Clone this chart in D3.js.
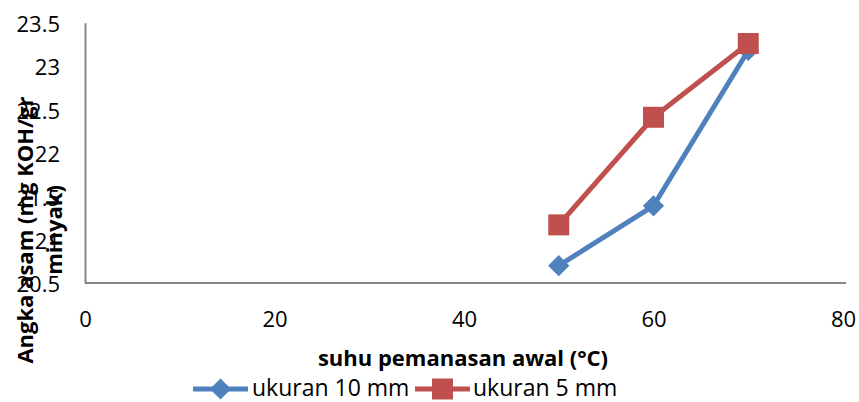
<!DOCTYPE html>
<html>
<head>
<meta charset="utf-8">
<script src="https://cdn.jsdelivr.net/npm/d3@7"></script>
<style>
  html, body { margin: 0; padding: 0; background: #fff; }
  svg { display: block; }
  text { font-family: "Open Sans", Lato, sans-serif; fill: #000; }
</style>
</head>
<body>
<svg id="chart" width="859" height="402"></svg>
<script>
// Preheating temperature (°C)
const temps = [50, 60, 70];
// Acid number (mg KOH/gr oil) per particle size
const size10mm = [20.70, 21.39, 23.18];
const size5mm = [21.17, 22.41, 23.26];

const xTicks = [0, 20, 40, 60, 80];
const yTicks = [20.5, 21, 21.5, 22, 22.5, 23, 23.5];
const yTickLabels = ["20.5", "21", "21.5", "22", "22.5", "23", "23.5"];

const seriesNames = ["ukuran 10 mm", "ukuran 5 mm"];
const xTitle = "suhu pemanasan awal (°C)";
const yTitleLines = ["Angka asam (mg KOH/gr", "minyak)"];

const blue = "#4F81BD", red = "#C0504D", axisGray = "#868686";

const svg = d3.select("#chart");
const x = d3.scaleLinear().domain([0, 80]).range([85, 843]);
const y = d3.scaleLinear().domain([20.5, 23.5]).range([283, 22.7]);

// axes: plain grey lines, no tick marks
const xAxis = d3.axisBottom(x).tickValues(xTicks).tickSize(0).tickPadding(0).tickFormat(d3.format("d"));
const gx = svg.append("g").attr("transform", `translate(0,${y(20.5)})`).call(xAxis);
gx.select(".domain").attr("stroke", axisGray).attr("stroke-width", 2).attr("d", `M${x(0)},0H${x(80) + 3}`);
gx.selectAll(".tick text").attr("font-size", 22).attr("dy", null).attr("y", 44).attr("fill", "#000")
  .attr("font-family", "'Open Sans', sans-serif");

const yAxis = d3.axisLeft(y).tickValues(yTicks).tickSize(0).tickPadding(0)
  .tickFormat((d, i) => yTickLabels[i]);
const gy = svg.append("g").attr("transform", `translate(${x(0)},0)`).call(yAxis);
gy.select(".domain").attr("stroke", axisGray).attr("stroke-width", 2);
gy.selectAll(".tick text").attr("font-size", 22).attr("x", -25).attr("dy", "0.4em").attr("fill", "#000")
  .attr("font-family", "'Open Sans', sans-serif");

// series
const line = d3.line().x(d => x(d[0])).y(d => y(d[1]));
const series = [
  { name: seriesNames[0], values: size10mm, color: blue, shape: "diamond" },
  { name: seriesNames[1], values: size5mm, color: red, shape: "square" }
];

function marker(g, shape, color) {
  if (shape === "diamond") {
    g.append("path").attr("d", d3.symbol(d3.symbolSquare, 225)())
      .attr("transform", "rotate(45)").attr("fill", color);
  } else {
    g.append("path").attr("d", d3.symbol(d3.symbolSquare, 441)()).attr("fill", color);
  }
}

series.forEach(s => {
  const pts = temps.map((t, i) => [t, s.values[i]]);
  svg.append("path").datum(pts).attr("d", line)
    .attr("fill", "none").attr("stroke", s.color).attr("stroke-width", 5)
    .attr("stroke-linejoin", "round");
  pts.forEach(p => {
    const g = svg.append("g").attr("transform", `translate(${x(p[0])},${y(p[1])})`);
    marker(g, s.shape, s.color);
  });
});

// axis titles
svg.append("text").attr("x", 463).attr("y", 366).attr("text-anchor", "middle")
  .attr("font-size", 22).attr("font-weight", "bold").text(xTitle);

const yt = svg.append("text").attr("transform", "translate(33,230) rotate(-90)")
  .attr("text-anchor", "middle").attr("font-size", 22).attr("font-weight", "bold");
yTitleLines.forEach((l, i) => {
  yt.append("tspan").attr("x", 0).attr("y", i * 29).text(l);
});

// legend
const legendItems = [
  { s: series[0], x0: 193, x1: 248, tx: 252 },
  { s: series[1], x0: 415, x1: 470, tx: 473 }
];
legendItems.forEach(it => {
  const ly = 389;
  svg.append("line").attr("x1", it.x0).attr("x2", it.x1).attr("y1", ly).attr("y2", ly)
    .attr("stroke", it.s.color).attr("stroke-width", 5);
  const g = svg.append("g").attr("transform", `translate(${(it.x0 + it.x1) / 2},${ly})`);
  marker(g, it.s.shape, it.s.color);
  svg.append("text").attr("x", it.tx).attr("y", 396).attr("font-size", 23).text(it.s.name);
});
</script>
</body>
</html>
